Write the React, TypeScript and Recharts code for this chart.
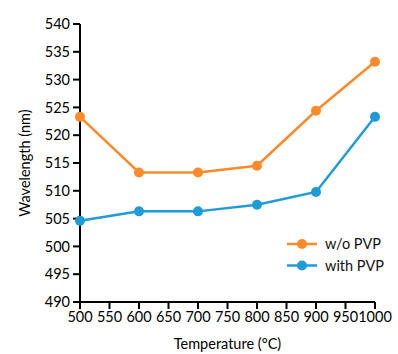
import { LineChart, Line, XAxis, YAxis } from "recharts";

const temperatures = [500, 600, 700, 800, 900, 1000];
const withoutPvp = [523.3, 513.3, 513.3, 514.5, 524.4, 533.2];
const withPvp = [504.6, 506.3, 506.3, 507.5, 509.8, 523.3];

const xTicks = [500, 550, 600, 650, 700, 750, 800, 850, 900, 950, 1000];
const yTicks = [490, 495, 500, 505, 510, 515, 520, 525, 530, 535, 540];

const ORANGE = "#FF8A2A";
const BLUE = "#1F9BD7";
const FONT = "Lato, 'Open Sans', sans-serif";

const data = temperatures.map((t, i) => ({
  temp: t,
  noPvp: withoutPvp[i],
  pvp: withPvp[i],
}));

const legendItems = [
  { label: "w/o PVP", color: ORANGE },
  { label: "with PVP", color: BLUE },
];

// legend sits over the lower right of the plot, so it is laid on top of the chart
function LegendBox() {
  return (
    <svg
      width={110}
      height={44}
      style={{ position: "absolute", left: 285, top: 234 }}
    >
      {legendItems.map((item, i) => {
        const y = 10 + i * 21.5;
        return (
          <g key={item.label}>
            <line x1={2} x2={32} y1={y} y2={y} stroke={item.color} strokeWidth={2.5} />
            <circle cx={17} cy={y} r={5} fill={item.color} />
            <text
              x={40}
              y={y}
              dy="0.35em"
              fontSize={14.5}
              fontFamily={FONT}
              fill="#111"
            >
              {item.label}
            </text>
          </g>
        );
      })}
    </svg>
  );
}

export default function App() {
  const tickStyle = { fill: "#000", fontSize: 14.5, fontFamily: FONT };
  return (
    <div style={{ position: "absolute", left: 0, top: 0, width: 398, height: 354, background: "#fff" }}>
      <LineChart
        width={398}
        height={354}
        data={data}
        margin={{ top: 24, right: 23, left: 0, bottom: 0 }}
      >
        <XAxis
          dataKey="temp"
          type="number"
          domain={[500, 1000]}
          ticks={xTicks}
          interval={0}
          height={52}
          tick={tickStyle}
          tickSize={7}
          tickMargin={3}
          axisLine={{ stroke: "#000", strokeWidth: 2 }}
          tickLine={{ stroke: "#000", strokeWidth: 2 }}
          label={{
            value: "Temperature (°C)",
            position: "insideBottom",
            offset: 5,
            fill: "#000",
            fontSize: 14.5,
            fontFamily: FONT,
          }}
        />
        <YAxis
          type="number"
          domain={[490, 540]}
          ticks={yTicks}
          interval={0}
          width={80}
          tick={tickStyle}
          tickSize={7}
          tickMargin={3}
          axisLine={{ stroke: "#000", strokeWidth: 2 }}
          tickLine={{ stroke: "#000", strokeWidth: 2 }}
          label={{
            value: "Wavelength (nm)",
            angle: -90,
            position: "insideLeft",
            offset: 25,
            style: { textAnchor: "middle" },
            fill: "#000",
            fontSize: 14.5,
            fontFamily: FONT,
          }}
        />
        <Line
          dataKey="noPvp"
          stroke={ORANGE}
          strokeWidth={2.5}
          dot={{ r: 5, fill: ORANGE, stroke: ORANGE, strokeWidth: 0 }}
          isAnimationActive={false}
        />
        <Line
          dataKey="pvp"
          stroke={BLUE}
          strokeWidth={2.5}
          dot={{ r: 5, fill: BLUE, stroke: BLUE, strokeWidth: 0 }}
          isAnimationActive={false}
        />
      </LineChart>
      <LegendBox />
    </div>
  );
}
